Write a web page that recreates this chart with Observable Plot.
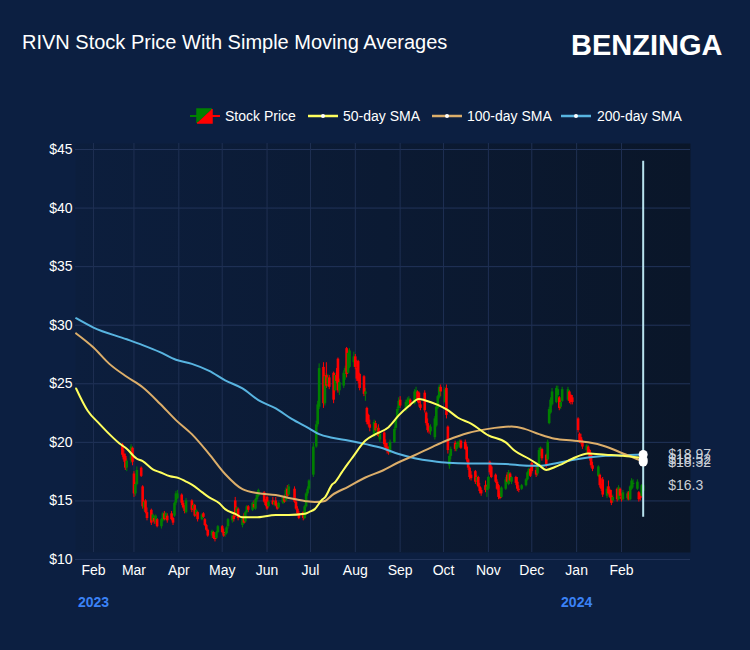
<!DOCTYPE html>
<html><head><meta charset="utf-8">
<script src="https://cdn.jsdelivr.net/npm/d3@7"></script>
<script src="https://cdn.jsdelivr.net/npm/@observablehq/plot@0.6"></script>
<style>
body{margin:0;background:#0c1f41;}
#wrap{position:relative;width:750px;height:650px;background:#0c1f41;font-family:"Liberation Sans",Arial,Helvetica,sans-serif;color:#fff;overflow:hidden}
#chart{position:absolute;left:0;top:0}
.abs{position:absolute;white-space:nowrap}
.title{left:22px;top:32px;font-size:20px;line-height:20px}
.logo{left:571px;top:31px;font-size:29px;line-height:29px;font-weight:bold}
.legtxt{top:109px;font-size:14px;line-height:14px}
.legsw{top:108px}
</style></head>
<body>
<svg width="0" height="0" style="position:absolute"><defs>
<linearGradient id="plotBg" x1="0" x2="1" y1="0" y2="0">
<stop offset="0" stop-color="#0c1e3d"/><stop offset="1" stop-color="#0a1629"/>
</linearGradient></defs></svg>
<div id="wrap">
<div id="chart"></div>
<div class="abs title">RIVN Stock Price With Simple Moving Averages</div>
<div class="abs logo">BENZINGA</div>
<svg class="abs legsw" style="left:190px" width="30" height="16">
 <line x1="0" y1="8" x2="7" y2="8" stroke="#008000" stroke-width="2"/>
 <line x1="22" y1="8" x2="30" y2="8" stroke="#ff0000" stroke-width="2"/>
 <polygon points="7,1 22,1 7,15" fill="#008000"/>
 <polygon points="22,1 22,15 7,15" fill="#ff0000"/>
 <polyline points="7,15 7,1 22,1" fill="none" stroke="#008000" stroke-width="1.5"/>
 <polyline points="22,1 22,15 7,15" fill="none" stroke="#ff0000" stroke-width="1.5"/>
</svg>
<div class="abs legtxt" style="left:225px">Stock Price</div>
<svg class="abs legsw" style="left:308px" width="30" height="16"><line x1="0" y1="8" x2="30" y2="8" stroke="#ffff5e" stroke-width="2.5"/><circle cx="15" cy="8" r="2" fill="#fff"/></svg>
<div class="abs legtxt" style="left:343px">50-day SMA</div>
<svg class="abs legsw" style="left:432px" width="30" height="16"><line x1="0" y1="8" x2="30" y2="8" stroke="#dcae6a" stroke-width="2.5"/><circle cx="15" cy="8" r="2" fill="#fff"/></svg>
<div class="abs legtxt" style="left:467px">100-day SMA</div>
<svg class="abs legsw" style="left:561px" width="30" height="16"><line x1="0" y1="8" x2="30" y2="8" stroke="#58b4e0" stroke-width="2.5"/><circle cx="15" cy="8" r="2" fill="#fff"/></svg>
<div class="abs legtxt" style="left:597px">200-day SMA</div>
</div>
<script>
// ---- Candles: [day, open, high, low, close] per month ----
const feb2023 = [[21,19.8,19.9,18.7,18.9],[22,19.0,19.3,18.3,18.5],[23,18.8,19.0,17.6,17.8],[24,17.8,18.6,17.5,18.4],[27,18.4,19.8,18.2,19.6],[28,19.5,19.6,18.0,18.3]];
const mar2023 = [[1,17.3,17.5,15.3,15.6],[2,15.6,16.6,15.4,16.4],[3,16.4,17.9,16.3,17.6],[6,17.8,17.9,17.0,17.1],[7,16.2,16.3,14.3,14.5],[8,14.4,15.0,14.1,14.9],[9,15.0,15.1,13.9,14.0],[10,14.0,14.4,13.3,13.5],[13,14.2,14.3,12.9,13.1],[14,13.3,13.9,13.2,13.8],[15,13.5,13.7,13.0,13.2],[16,13.2,13.8,13.0,13.7],[17,13.4,13.5,12.7,12.8],[20,12.8,13.5,12.6,13.4],[21,13.3,14.0,13.2,13.9],[22,13.9,14.1,13.3,13.4],[23,13.5,14.0,13.3,13.9],[24,13.7,13.9,13.1,13.3],[27,13.9,14.1,13.3,13.4],[28,13.5,13.6,12.9,13.1],[29,13.7,14.9,13.6,14.8],[30,14.8,15.8,14.6,15.6],[31,15.2,15.9,15.1,15.6]];
const apr2023 = [[3,15.5,15.6,14.6,14.8],[4,14.8,15.0,14.3,14.4],[5,14.4,14.6,13.9,14.1],[6,14.0,15.2,13.9,15.0],[10,15.0,15.1,14.0,14.2],[11,14.3,14.8,14.1,14.6],[12,14.6,14.7,13.6,13.7],[13,13.8,14.3,13.6,14.2],[14,14.0,14.1,13.2,13.4],[17,13.4,13.9,13.3,13.8],[18,13.9,14.0,13.5,13.6],[19,13.4,13.5,12.8,12.9],[20,12.9,13.0,12.4,12.5],[21,12.5,12.6,11.9,12.0],[24,12.0,12.5,11.8,12.4],[25,12.3,12.4,11.7,11.8],[26,11.8,12.0,11.5,11.7],[27,11.8,12.4,11.7,12.3],[28,12.3,12.9,12.2,12.8]];
const may2023 = [[1,12.8,12.9,12.2,12.3],[2,12.3,12.6,11.9,12.0],[3,12.1,12.4,11.9,12.2],[4,12.2,12.8,12.1,12.7],[5,12.8,13.5,12.6,13.4],[8,13.3,13.8,13.1,13.7],[9,13.7,14.0,13.2,13.4],[10,15.0,15.3,13.6,13.9],[11,13.8,14.5,13.7,14.4],[12,14.3,14.4,13.3,13.5],[15,12.9,13.7,12.7,13.6],[16,13.6,13.9,13.0,13.1],[17,13.2,14.1,13.1,14.0],[18,14.0,14.6,13.9,14.5],[19,14.5,14.6,14.0,14.2],[22,14.2,14.9,14.1,14.8],[23,14.7,15.0,14.3,14.4],[24,14.3,15.2,14.2,15.1],[25,15.1,15.6,14.9,15.5],[26,15.4,16.0,15.3,15.9],[30,15.7,15.8,14.8,14.9],[31,14.9,15.1,14.5,14.6]];
const jun2023 = [[1,15.3,15.4,14.2,14.3],[2,14.5,15.0,14.4,14.9],[5,15.0,15.3,14.6,14.7],[6,14.7,15.0,14.5,14.9],[7,15.0,15.3,14.5,14.6],[8,14.6,14.8,14.2,14.3],[9,14.4,14.9,14.3,14.8],[12,14.8,15.4,14.7,15.3],[13,15.3,15.5,14.8,14.9],[14,15.0,16.1,14.9,15.9],[15,16.0,16.3,15.3,15.4],[16,15.5,16.4,15.4,16.2],[20,16.0,16.2,14.8,14.9],[21,14.9,15.2,14.2,14.3],[22,14.3,14.5,13.8,13.9],[23,13.9,14.1,13.4,13.5],[26,14.0,14.1,13.3,13.5],[27,13.5,14.6,13.4,14.5],[28,14.5,15.7,14.4,15.6],[29,15.6,16.2,15.4,16.0],[30,16.0,16.8,15.9,16.7]];
const jul2023 = [[3,17.2,19.9,17.0,19.6],[5,19.6,21.8,19.5,21.5],[6,21.5,23.5,21.3,23.2],[7,23.0,26.7,22.8,26.3],[10,26.4,26.8,22.9,23.3],[11,23.3,25.9,23.1,25.6],[12,25.7,26.8,24.6,24.8],[13,24.9,25.8,24.7,25.5],[14,25.5,25.7,24.5,24.7],[17,25.9,26.0,23.3,23.6],[18,24.4,25.9,24.3,25.7],[19,25.7,26.3,25.0,25.2],[20,27.1,27.2,24.2,24.4],[21,24.4,25.4,24.0,25.1],[24,24.8,26.1,24.6,25.9],[25,26.0,26.5,25.3,26.3],[26,28.0,28.1,25.5,25.8],[27,25.9,27.9,25.8,27.6],[28,26.4,28.0,26.3,27.8],[31,26.8,27.7,26.4,27.3]];
const aug2023 = [[1,27.3,27.5,26.2,26.4],[2,26.3,27.0,25.2,25.4],[3,26.9,27.0,25.0,25.2],[4,25.8,25.9,24.4,24.6],[7,25.6,25.7,23.9,24.1],[8,24.1,24.6,23.5,24.3],[9,22.9,23.0,21.5,21.7],[10,22.3,22.4,21.3,21.5],[11,21.5,21.9,20.9,21.2],[14,20.6,21.9,20.4,21.7],[15,21.6,21.8,20.9,21.0],[16,21.0,21.4,20.5,21.2],[17,21.2,21.5,20.4,20.5],[18,20.2,20.9,20.0,20.7],[21,20.8,20.9,19.6,19.8],[22,19.9,20.2,19.3,19.5],[23,19.6,19.9,19.0,19.2],[24,19.3,19.6,18.9,19.1],[25,19.1,20.2,19.0,20.0],[28,20.0,21.3,19.9,21.1],[29,21.2,22.1,21.0,21.9],[30,22.0,23.0,21.9,22.8],[31,22.9,23.8,22.7,23.5]];
const sep2023 = [[1,23.6,23.9,22.9,23.1],[5,22.8,23.6,22.6,23.4],[6,23.2,23.8,22.9,23.6],[7,23.4,23.9,23.0,23.7],[8,23.6,23.7,23.0,23.1],[11,23.3,24.5,23.2,24.3],[12,24.3,24.7,23.9,24.4],[13,24.3,24.4,23.4,23.6],[14,24.2,24.3,23.0,23.3],[15,23.2,23.5,22.7,22.9],[18,24.2,24.4,22.5,22.7],[19,22.5,22.6,21.4,21.6],[20,21.6,22.0,20.8,21.0],[21,21.0,21.4,20.7,20.9],[22,20.9,21.5,20.6,21.3],[25,20.4,22.2,20.2,22.0],[26,21.4,23.2,21.3,23.0],[27,22.9,24.0,22.8,23.9],[28,23.8,24.9,23.7,24.7],[29,24.7,24.9,23.9,24.3]];
const oct2023 = [[2,23.4,24.7,23.3,24.5],[3,24.6,24.9,22.0,22.3],[4,21.3,21.4,19.0,19.3],[5,18.0,19.0,17.7,18.8],[6,18.8,19.6,18.5,19.4],[9,19.9,20.1,19.2,19.4],[10,19.4,20.0,19.2,19.8],[11,19.8,20.1,19.5,20.0],[12,19.6,20.2,19.5,20.0],[13,20.1,20.2,19.4,19.5],[16,20.0,20.2,19.3,19.4],[17,19.6,19.8,18.3,18.5],[18,18.5,18.6,17.6,17.8],[19,17.8,17.9,16.8,17.0],[20,17.2,17.5,16.7,16.9],[23,17.5,17.6,16.4,16.6],[24,16.7,17.2,16.3,17.0],[25,17.0,17.1,16.1,16.2],[26,16.2,16.5,15.6,15.8],[27,15.9,16.1,15.4,15.6],[30,16.3,16.7,15.7,15.9],[31,15.9,16.4,15.3,16.2]];
const nov2023 = [[1,16.0,17.1,15.9,17.0],[2,18.3,18.4,17.2,17.4],[3,17.9,18.0,16.9,17.0],[6,17.2,17.3,16.5,16.6],[7,16.6,16.8,15.9,16.0],[8,16.3,16.4,15.1,15.3],[9,15.6,15.8,15.1,15.2],[10,15.3,16.2,15.2,16.1],[13,16.0,17.0,15.9,16.8],[14,17.2,17.4,16.5,16.6],[15,16.4,17.6,16.3,17.4],[16,17.3,17.4,16.6,16.7],[17,16.6,17.1,16.4,17.0],[20,17.0,17.1,16.3,16.5],[21,16.6,17.0,15.8,16.0],[22,16.0,16.3,15.7,15.9],[24,16.0,16.4,15.9,16.3],[27,16.3,16.9,16.2,16.8],[28,16.8,17.5,16.7,17.4],[29,17.3,17.8,17.2,17.7],[30,17.7,17.8,17.0,17.1]];
const dec2023 = [[1,18.2,18.3,17.3,17.5],[4,17.6,17.9,17.0,17.2],[5,17.3,18.2,17.1,18.1],[6,18.1,19.5,18.0,19.3],[7,19.2,19.6,18.8,19.5],[8,19.4,19.5,18.4,18.6],[11,18.9,19.0,17.8,18.1],[12,18.5,20.2,18.4,20.0],[13,21.6,23.0,21.5,22.8],[14,22.5,23.8,22.4,23.6],[15,23.2,24.6,23.1,24.3],[18,23.4,24.8,23.3,24.6],[19,24.0,24.8,23.8,24.5],[20,23.8,23.9,22.7,22.9],[21,23.0,23.6,22.8,23.4],[22,23.5,24.7,23.4,24.5],[26,23.6,24.7,23.5,24.5],[27,24.3,24.4,23.3,23.5],[28,24.0,24.1,23.2,23.4],[29,23.8,24.0,23.2,23.4]];
const jan2024 = [[2,22.0,22.1,20.8,21.0],[3,20.7,20.8,19.9,20.1],[4,20.4,20.7,19.8,20.0],[5,20.1,20.2,19.4,19.6],[8,19.3,19.8,19.0,19.7],[9,19.6,19.7,18.9,19.0],[10,19.3,19.4,18.4,18.6],[11,18.9,19.1,17.8,18.0],[12,18.0,18.3,17.5,17.7],[16,17.1,18.0,17.0,17.9],[17,17.2,17.3,16.1,16.3],[18,16.4,16.9,15.8,16.0],[19,16.8,17.0,15.3,15.5],[22,15.4,16.2,15.2,16.0],[23,16.2,16.7,15.5,15.6],[24,15.9,16.0,15.2,15.3],[25,15.4,15.9,14.6,14.8],[26,15.0,15.5,14.8,15.3],[29,16.0,16.1,14.9,15.1],[30,15.1,16.3,15.0,16.1],[31,16.0,16.1,15.2,15.4]];
const feb2024 = [[1,15.3,15.6,14.9,15.1],[2,15.1,15.9,15.0,15.7],[5,15.2,15.8,15.0,15.6],[6,15.7,15.8,15.0,15.1],[7,15.1,16.3,15.0,16.2],[8,16.0,16.9,15.9,16.7],[9,16.4,16.8,16.1,16.5],[12,16.0,16.8,15.9,16.6],[13,15.7,15.8,14.9,15.1],[14,15.4,15.6,15.0,15.2],[15,15.4,16.4,15.3,16.3],[16,15.8,16.6,15.6,16.3]];

// ---- Simple moving averages: [date, value] ----
const sma50 = [["2023-01-20",24.6],["2023-01-28",22.7],["2023-02-05",21.6],["2023-02-12",20.7],["2023-02-19",19.9],["2023-02-24",19.45],["2023-03-03",18.6],["2023-03-07",18.4],["2023-03-14",17.7],["2023-03-19",17.45],["2023-03-26",17.1],["2023-04-01",16.95],["2023-04-06",16.65],["2023-04-10",16.4],["2023-04-17",15.75],["2023-04-22",15.3],["2023-04-29",14.8],["2023-05-03",14.3],["2023-05-10",13.9],["2023-05-15",13.6],["2023-05-24",13.6],["2023-06-07",13.8],["2023-06-16",13.8],["2023-06-27",13.9],["2023-06-30",14.05],["2023-07-04",14.3],["2023-07-09",15.1],["2023-07-11",15.3],["2023-07-16",16.4],["2023-07-18",16.6],["2023-07-23",17.5],["2023-07-27",18.2],["2023-07-30",18.7],["2023-08-08",20.15],["2023-08-15",20.7],["2023-08-24",21.3],["2023-08-31",22.3],["2023-09-07",23.1],["2023-09-14",23.7],["2023-09-18",23.6],["2023-09-27",23.2],["2023-10-04",22.75],["2023-10-11",22.1],["2023-10-20",21.6],["2023-11-01",20.6],["2023-11-13",20.0],["2023-11-19",19.3],["2023-11-29",18.6],["2023-12-06",18.05],["2023-12-11",17.65],["2023-12-17",17.9],["2023-12-20",18.05],["2023-12-29",18.6],["2024-01-09",19.05],["2024-01-21",18.95],["2024-02-02",18.85],["2024-02-13",18.7],["2024-02-16",18.52]];
const sma100 = [["2023-01-20",29.3],["2023-02-01",28.1],["2023-02-12",26.7],["2023-02-24",25.6],["2023-03-07",24.7],["2023-03-19",23.3],["2023-03-30",21.9],["2023-04-10",20.7],["2023-04-22",19.0],["2023-05-03",17.3],["2023-05-15",16.0],["2023-05-26",15.65],["2023-06-07",15.5],["2023-06-18",15.2],["2023-06-27",15.0],["2023-07-04",14.9],["2023-07-11",15.0],["2023-07-16",15.5],["2023-07-27",16.2],["2023-08-08",17.0],["2023-08-20",17.6],["2023-08-31",18.3],["2023-09-11",18.9],["2023-09-23",19.6],["2023-10-04",20.2],["2023-10-18",20.8],["2023-11-01",21.15],["2023-11-17",21.35],["2023-11-26",21.15],["2023-12-06",20.7],["2023-12-17",20.3],["2023-12-29",20.15],["2024-01-09",20.0],["2024-01-21",19.65],["2024-02-02",19.05],["2024-02-13",18.5],["2024-02-16",18.32]];
const sma200 = [["2023-01-20",30.6],["2023-02-01",29.8],["2023-02-24",28.8],["2023-03-07",28.3],["2023-03-19",27.7],["2023-03-30",27.05],["2023-04-10",26.7],["2023-04-22",26.1],["2023-05-03",25.3],["2023-05-15",24.6],["2023-05-26",23.6],["2023-06-07",22.9],["2023-06-18",22.0],["2023-06-30",21.2],["2023-07-07",20.7],["2023-07-16",20.4],["2023-07-27",20.15],["2023-08-08",19.85],["2023-08-20",19.5],["2023-08-31",19.0],["2023-09-11",18.65],["2023-09-23",18.4],["2023-10-04",18.25],["2023-10-18",18.2],["2023-11-01",18.2],["2023-11-13",18.15],["2023-11-29",18.0],["2023-12-06",18.0],["2023-12-17",18.2],["2023-12-29",18.5],["2024-01-09",18.7],["2024-01-21",18.85],["2024-02-02",18.9],["2024-02-16",18.97]];

// ---- End-of-series values, labels and hover spike ----
const lastDate = "2024-02-16";
const endValues = [18.52, 18.32, 18.97];            // 50, 100, 200-day SMA
const endLabels = ["$18.52", "$18.32", "$18.97"];
const lastClose = 16.3;
const lastCloseLabel = "$16.3";
const spikeRange = [13.6, 44.0];

// ---- Axes ----
const yTicks = [10, 15, 20, 25, 30, 35, 40, 45];
const xTickDates = ["2023-02-01","2023-03-01","2023-04-01","2023-05-01","2023-06-01","2023-07-01","2023-08-01","2023-09-01","2023-10-01","2023-11-01","2023-12-01","2024-01-01","2024-02-01"];
const monthNames = ["Feb","Mar","Apr","May","Jun","Jul","Aug","Sep","Oct","Nov","Dec","Jan","Feb"];
const yearLabelDates = ["2023-02-01","2024-01-01"];
const yearLabels = ["2023","2024"];

const parse = d3.utcParse("%Y-%m-%d");
const candleMonths = [["2023-02",feb2023],["2023-03",mar2023],["2023-04",apr2023],["2023-05",may2023],["2023-06",jun2023],["2023-07",jul2023],["2023-08",aug2023],["2023-09",sep2023],["2023-10",oct2023],["2023-11",nov2023],["2023-12",dec2023],["2024-01",jan2024],["2024-02",feb2024]];
const candles = [];
for (const [ym, rows] of candleMonths) for (const [d,o,h,l,c] of rows)
  candles.push({date: parse(`${ym}-${String(d).padStart(2,"0")}`), open:o, high:h, low:l, close:c});
const GREEN = "#008000", RED = "#ff0000";
const col = d => d.close >= d.open ? GREEN : RED;
const toPts = arr => arr.map(([d,v]) => ({date: parse(d), v}));
const tickDates = xTickDates.map(parse);
const monthLabel = new Map(tickDates.map((d,i) => [+d, monthNames[i]]));
const ld = parse(lastDate);
const endPts = endValues.map((v,i) => ({date: ld, v, label: endLabels[i]}));

const FONT = '"Liberation Sans", Arial, Helvetica, sans-serif';
const chart = Plot.plot({
  width: 750, height: 650,
  marginLeft: 75, marginRight: 60, marginTop: 143, marginBottom: 98,
  style: {background: "transparent", color: "#fff", fontFamily: FONT, fontSize: "14px", overflow: "visible"},
  x: {type: "utc", domain: [new Date("2023-01-19T14:00Z"), new Date("2024-03-19T17:00Z")], range: [75, 690], label: null},
  y: {domain: [10, 45], range: [559, 149], label: null},
  marks: [
    Plot.frame({fill: "url(#plotBg)"}),
    Plot.gridY(yTicks, {stroke: "#22345a", strokeOpacity: 1}),
    Plot.gridX(tickDates, {stroke: "#1f3053", strokeOpacity: 1}),
    Plot.axisY(yTicks, {tickSize: 0, tickPadding: 3, tickFormat: d => "$" + d, fontSize: 14, fill: "#fff", label: null}),
    Plot.axisX(tickDates, {tickSize: 0, tickPadding: 13, tickFormat: d => monthLabel.get(+d), fontSize: 14, fill: "#fff", label: null}),
    Plot.text(yearLabelDates.map((d,i) => ({date: parse(d), t: yearLabels[i]})), {x: "date", text: "t", frameAnchor: "bottom", dy: 54, fill: "#3b82f6", fontWeight: "bold", fontSize: 14}),
    Plot.ruleX(candles, {x: "date", y1: "low", y2: "high", stroke: col, strokeWidth: 1}),
    Plot.ruleX(candles, {x: "date", y1: "open", y2: "close", stroke: col, strokeWidth: 2.6}),
    Plot.line(toPts(sma200), {x: "date", y: "v", stroke: "#58b4e0", strokeWidth: 2, curve: "monotone-x"}),
    Plot.line(toPts(sma100), {x: "date", y: "v", stroke: "#dcae6a", strokeWidth: 2, curve: "monotone-x"}),
    Plot.line(toPts(sma50), {x: "date", y: "v", stroke: "#ffff5e", strokeWidth: 2, curve: "monotone-x"}),
    Plot.ruleX([ld], {y1: spikeRange[0], y2: spikeRange[1], stroke: "#b8e2ee", strokeWidth: 2}),
    Plot.dot(endPts, {x: "date", y: "v", r: 4.5, fill: "#fff"}),
    Plot.text(endPts, {x: "date", y: "v", text: "label", dx: 25, textAnchor: "start", fill: "#c9ced6", fontSize: 14}),
    Plot.text([{date: ld, v: lastClose}], {x: "date", y: "v", text: () => lastCloseLabel, dx: 25, textAnchor: "start", fill: "#c9ced6", fontSize: 14})
  ]
});
document.getElementById("chart").appendChild(chart);
</script>
</body></html>
